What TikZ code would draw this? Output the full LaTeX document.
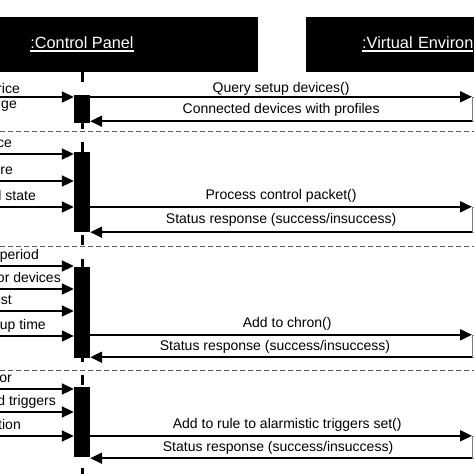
\documentclass[tikz,border=0pt]{standalone}
\usepackage{fontspec}
\setmainfont{Liberation Sans}
\usetikzlibrary{arrows.meta,positioning,calc}
\newcommand{\ulabel}[1]{\setbox0\hbox{#1}\rlap{\rule[-3pt]{\wd0}{1.6pt}}\box0}
\tikzstyle{header} = [rectangle, fill=black, text=white, minimum height=55pt,
inner sep=0pt, font=\fontsize{16.3}{18}\selectfont]
\tikzstyle{activation} = [rectangle, fill=black, minimum width=16pt, inner sep=0pt]
\tikzstyle{envbox} = [rectangle, draw=gray, fill=white, minimum width=20pt,
inner sep=0pt, anchor=west]
\tikzstyle{msg} = [-{Triangle[length=12pt,width=11pt]}, line width=2pt, black]
\tikzstyle{lifeline} = [line width=3pt, dash pattern=on 10pt off 13.3pt]
\tikzstyle{separator} = [line width=1pt, gray!70!black, dash pattern=on 5pt off 3pt]
\tikzstyle{lab} = [font=\fontsize{14}{16}\selectfont, inner sep=0pt]
\tikzstyle{msglab} = [lab, anchor=base, yshift=7pt]
\tikzstyle{sidelab} = [lab, anchor=base east]

\begin{document}
\begin{tikzpicture}[x=1pt, y=-1pt]
	\useasboundingbox (0,0) rectangle (474,474);
	\clip (0,0) rectangle (474,474);
	\coordinate (bottom) at (0,474);

	% objects
	\node[header, minimum width=352pt] (panel) at (82,44.5) {\ulabel{:Control Panel}};
	\node[header, anchor=west, text width=300pt, align=left, inner xsep=56pt] (env) at (306,44.5) {\ulabel{:Virtual Environ}};
	\draw[lifeline] (panel.south) -- (panel.south |- bottom);

	% fragments
	\draw[separator] (0,131) -- (474,131);
	\draw[separator] (0,246) -- (474,246);
	\draw[separator] (0,370) -- (474,370);

	% activations
	\node[activation, minimum height=28pt] (act1) at (82,109) {};
	\node[activation, minimum height=80pt] (act2) at (82,192) {};
	\node[activation, minimum height=91pt] (act3) at (82,312.5) {};
	\node[activation, minimum height=70pt] (act4) at (82,422) {};
	\node[envbox, minimum height=24pt] (env1) at (472,109) {};
	\node[envbox, minimum height=25pt] (env2) at (472,219.5) {};
	\node[envbox, minimum height=22pt] (env3) at (472,346) {};
	\node[envbox, minimum height=22pt] (env4) at (472,447) {};

	% incoming from the left
	\coordinate (in1) at (0,97);
	\coordinate (in2) at (0,154);
	\coordinate (in3) at (0,181);
	\coordinate (in4) at (0,207);
	\coordinate (in5) at (0,266);
	\coordinate (in6) at (0,289);
	\coordinate (in7) at (0,311);
	\coordinate (in8) at (0,336);
	\coordinate (in9) at (0,389);
	\coordinate (in10) at (0,412);
	\coordinate (in11) at (0,436);
	\draw[msg] (in1) -- (in1 -| act1.west);
	\draw[msg] (in2) -- (in2 -| act2.west);
	\draw[msg] (in3) -- (in3 -| act2.west);
	\draw[msg] (in4) -- (in4 -| act2.west);
	\draw[msg] (in5) -- (in5 -| act3.west);
	\draw[msg] (in6) -- (in6 -| act3.west);
	\draw[msg] (in7) -- (in7 -| act3.west);
	\draw[msg] (in8) -- (in8 -| act3.west);
	\draw[msg] (in9) -- (in9 -| act4.west);
	\draw[msg] (in10) -- (in10 -| act4.west);
	\draw[msg] (in11) -- (in11 -| act4.west);

	\node[sidelab] (l1) at (20,93) {rice};
	\node[sidelab] (l2) at (17,108) {ge};
	\node[sidelab] (l3) at (12,147) {ce};
	\node[sidelab] (l4) at (13,174) {re};
	\node[sidelab] (l5) at (36,200) {l state};
	\node[sidelab] (l6) at (39,259) {period};
	\node[sidelab] (l7) at (61,282) {or devices};
	\node[sidelab] (l8) at (12,304) {st};
	\node[sidelab] (l9) at (46,329) {up time};
	\node[sidelab] (l10) at (12,382) {or};
	\node[sidelab] (l11) at (56,405) {d triggers};
	\node[sidelab] (l12) at (21,429) {tion};

	% calls and replies
	\draw[msg] (act1.east |- env1.north west) -- node[msglab, yshift=-3pt, pos=.5]{Query setup devices()} (env1.north west);
	\draw[msg] (env1.south west) -- node[msglab, yshift=1pt, pos=.5]{Connected devices with profiles} (act1.east |- env1.south west);
	\draw[msg] (act2.east |- env2.north west) -- node[msglab, pos=.5]{Process control packet()} (env2.north west);
	\draw[msg] (env2.south west) -- node[msglab, yshift=2pt, pos=.5]{Status response (success/insuccess)} (act2.east |- env2.south west);
	\draw[msg] (act3.east |- env3.north west) -- node[msglab, pos=.516]{Add to chron()} (env3.north west);
	\draw[msg] (env3.south west) -- node[msglab, pos=.516]{Status response (success/insuccess)} (act3.east |- env3.south west);
	\draw[msg] (act4.east |- env4.north west) -- node[msglab, pos=.516]{Add to rule to alarmistic triggers set()} (env4.north west);
	\draw[msg] (env4.south west) -- node[msglab, pos=.508]{Status response (success/insuccess)} (act4.east |- env4.south west);
\end{tikzpicture}
\end{document}
